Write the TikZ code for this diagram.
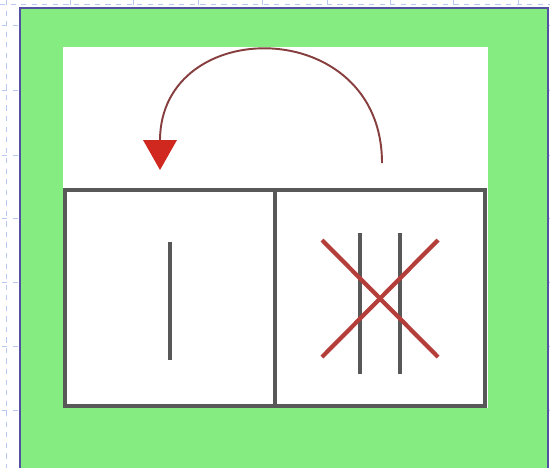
\documentclass[tikz,border=0pt]{standalone}
\usepackage{tikz}
\usetikzlibrary{arrows.meta, positioning}
\definecolor{slidegreen}{RGB}{132,236,128}
\definecolor{frameblue}{RGB}{82,82,160}
\definecolor{gridblue}{RGB}{185,200,240}
\definecolor{strokegray}{RGB}{88,88,88}
\definecolor{crossred}{RGB}{180,62,58}
\definecolor{arcred}{RGB}{135,62,62}
\definecolor{tipred}{RGB}{208,40,30}

\begin{document}
\begin{tikzpicture}[x=0.02cm, y=-0.02cm,
				gridtick/.style={draw=gridblue, dashed, line width=0.4pt},
				cell/.style={draw=strokegray, line width=2pt, fill=white, minimum width=4.2cm, minimum height=4.32cm, inner sep=0pt},
				stroke/.style={draw=strokegray, line width=1.8pt},
				crossline/.style={draw=crossred, line width=2.4pt},
				swaparrow/.style={draw=arcred, line width=1.1pt, -{Triangle[length=17pt, width=19pt, color=tipred]}}
			]
			\useasboundingbox (0,0) rectangle (550,468);

			% Slide grid marks
			\draw[gridtick] (6,0) -- (6,468);
			\draw[gridtick] (0,4) -- (550,4);
			\foreach \y in {25, 90, 155, 218, 282, 346, 410} {
					\draw[gridtick] (2,\y) -- (20,\y);
					\draw[gridtick] (548,\y) -- (550,\y);
				}
			\foreach \x in {70, 133, 198, 262, 327, 390, 453, 518} {
					\draw[gridtick] (\x,0) -- (\x,8);
				}

			% Green panel
			\fill[slidegreen] (20,8) rectangle (548,468);
			\draw[draw=frameblue, line width=1pt] (20,468) -- (20,8) -- (548,8) -- (548,468);
			\fill[white] (63,47) rectangle (488,408);

			% Cells
			\node[cell] (leftcell) at (170,298) {};
			\node[cell] (rightcell) at (380,298) {};

			% Left cell: one stroke
			\draw[stroke] (170,242) -- (170,360);

			% Right cell: two strokes crossed out
			\draw[stroke] (360,233) -- (360,374);
			\draw[stroke] (400,233) -- (400,374);
			\draw[crossline] (322,240) -- (438,357);
			\draw[crossline] (438,240) -- (322,357);

			% Move arrow
			\coordinate (arcstart) at (382,163);
			\coordinate (arcend) at (160,170);
			\draw[swaparrow] (arcstart) .. controls (382,14) and (160,14) .. (arcend);
		\end{tikzpicture}
\end{document}
